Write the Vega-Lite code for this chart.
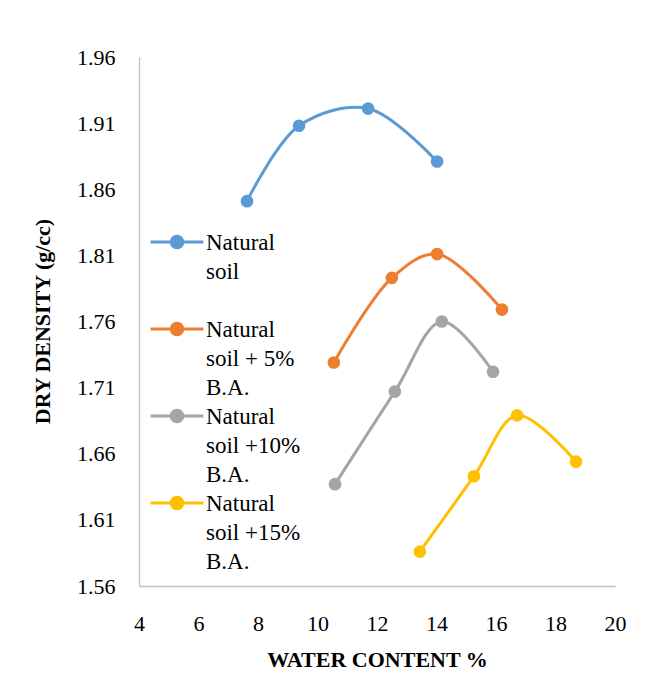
{
  "$schema": "https://vega.github.io/schema/vega-lite/v6.json",
  "width": 476,
  "height": 529,
  "autosize": "none",
  "padding": {"left": 139, "top": 57, "right": 32, "bottom": 89},
  "background": "white",
  "config": {
    "view": {"stroke": null},
    "font": "Liberation Serif",
    "axis": {"labelFont": "Liberation Serif", "titleFont": "Liberation Serif", "labelColor": "black", "titleColor": "black", "grid": false, "ticks": false, "domainColor": "#BFBFBF", "domainWidth": 1.3},
    "legend": {"labelFont": "Liberation Serif"}
  },
  "data": {
    "values": [
      {"series": "Natural soil", "w": 7.63, "d": 1.851},
      {"series": "Natural soil", "w": 9.38, "d": 1.908},
      {"series": "Natural soil", "w": 11.70, "d": 1.921},
      {"series": "Natural soil", "w": 14.02, "d": 1.881},
      {"series": "Natural soil + 5% B.A.", "w": 10.55, "d": 1.729},
      {"series": "Natural soil + 5% B.A.", "w": 12.50, "d": 1.793},
      {"series": "Natural soil + 5% B.A.", "w": 14.02, "d": 1.811},
      {"series": "Natural soil + 5% B.A.", "w": 16.20, "d": 1.769},
      {"series": "Natural soil +10% B.A.", "w": 10.59, "d": 1.637},
      {"series": "Natural soil +10% B.A.", "w": 12.60, "d": 1.707},
      {"series": "Natural soil +10% B.A.", "w": 14.18, "d": 1.760},
      {"series": "Natural soil +10% B.A.", "w": 15.90, "d": 1.722},
      {"series": "Natural soil +15% B.A.", "w": 13.44, "d": 1.586},
      {"series": "Natural soil +15% B.A.", "w": 15.26, "d": 1.643},
      {"series": "Natural soil +15% B.A.", "w": 16.71, "d": 1.689},
      {"series": "Natural soil +15% B.A.", "w": 18.69, "d": 1.654}
    ]
  },
  "encoding": {
    "x": {
      "field": "w", "type": "quantitative",
      "scale": {"domain": [4, 20], "nice": false, "zero": false},
      "axis": {
        "title": "WATER CONTENT %", "values": [4, 6, 8, 10, 12, 14, 16, 18, 20],
        "labelFontSize": 22, "labelBaseline": "alphabetic", "labelPadding": 44,
        "titleFontSize": 22, "titleFontWeight": "bold", "titleX": 238, "titleY": 80, "titleBaseline": "alphabetic", "titleAnchor": "middle",
        "labelFlush": false, "labelOverlap": false
      }
    },
    "y": {
      "field": "d", "type": "quantitative",
      "scale": {"domain": [1.56, 1.96], "nice": false, "zero": false},
      "axis": {
        "title": "DRY DENSITY (g/cc)", "values": [1.56, 1.61, 1.66, 1.71, 1.76, 1.81, 1.86, 1.91, 1.96], "format": ".2f",
        "labelFontSize": 22, "labelPadding": 24, "labelFlush": false, "labelOverlap": false,
        "titleFontSize": 22, "titleFontWeight": "bold", "titleX": -97, "titleY": 264, "titleBaseline": "middle", "titleAngle": -90, "titleAnchor": "middle"
      }
    },
    "color": {
      "field": "series", "type": "nominal",
      "scale": {
        "domain": ["Natural soil", "Natural soil + 5% B.A.", "Natural soil +10% B.A.", "Natural soil +15% B.A."],
        "range": ["#5B9BD5", "#ED7D31", "#A5A5A5", "#FFC000"]
      },
      "legend": {
        "title": null, "orient": "none", "legendX": 25, "legendY": 172, "padding": 0,
        "symbolType": "M-2.3,0L2.3,0M0.5,0A0.5,0.5 0 1,1 -0.5,0A0.5,0.5 0 1,1 0.5,0Z",
        "symbolSize": 529, "symbolStrokeWidth": 3, "symbolOpacity": 1,
        "labelFontSize": 23, "labelColor": "black", "labelOffset": 16, "labelLimit": 300,
        "labelBaseline": "alphabetic", "rowPadding": 3, "gridAlign": "all",
        "labelExpr": "datum.label == 'Natural soil' ? ['Natural','soil'] : datum.label == 'Natural soil + 5% B.A.' ? ['Natural','soil + 5%','B.A.'] : datum.label == 'Natural soil +10% B.A.' ? ['Natural','soil +10%','B.A.'] : ['Natural','soil +15%','B.A.']",
        "encode": {
          "symbols": {"update": {"fill": {"scale": "color", "field": "value"}, "stroke": {"scale": "color", "field": "value"}}},
          "labels": {"update": {"dy": {"value": 8}, "lineHeight": {"value": 29}}}
        }
      }
    }
  },
  "layer": [
    {"mark": {"type": "line", "interpolate": "catmull-rom", "strokeWidth": 3}},
    {"mark": {"type": "point", "filled": true, "size": 160, "opacity": 1}}
  ]
}
